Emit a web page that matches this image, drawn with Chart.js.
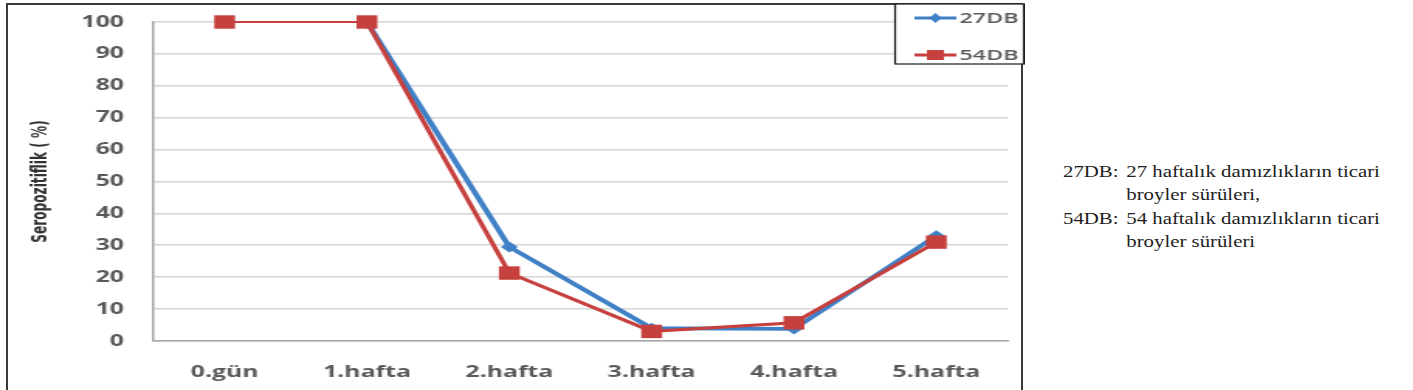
<!DOCTYPE html>
<html>
<head>
<meta charset="utf-8">
<script src="https://cdn.jsdelivr.net/npm/chart.js@4"></script>
<style>
  html, body { margin:0; padding:0; width:1413px; height:390px; overflow:hidden; background:#fff; }
  #frame { position:absolute; left:6px; top:3px; width:1017px; height:420px; border:2px solid #3a3a3a; box-sizing:border-box; }
  #wrap { position:absolute; left:0; top:0; width:661px; height:390px; transform:scaleX(1.55); transform-origin:0 0; }
  #note { position:absolute; left:1063px; top:160px; font-family:"Liberation Serif","Times New Roman",serif; font-size:16.8px; line-height:23.3px; color:#1e1e1e; white-space:nowrap; transform:scaleX(1.24); transform-origin:0 0; }
  #note .row { display:flex; }
  #note .lab { width:51px; }
</style>
</head>
<body>
<div id="frame"></div>
<div id="wrap"><canvas id="c" width="661" height="390"></canvas></div>
<div id="note">
  <div class="row"><span class="lab">27DB:</span><span>27 haftalık damızlıkların ticari</span></div>
  <div class="row"><span class="lab"></span><span>broyler sürüleri,</span></div>
  <div class="row"><span class="lab">54DB:</span><span>54 haftalık damızlıkların ticari</span></div>
  <div class="row"><span class="lab"></span><span>broyler sürüleri</span></div>
</div>
<script>
const categories = ['0.gün', '1.hafta', '2.hafta', '3.hafta', '4.hafta', '5.hafta'];
const series27DB = [100, 100, 29.5, 4, 3.8, 33];
const series54DB = [100, 100, 21.3, 3, 5.7, 31];
const seriesNames = ['27DB', '54DB'];
const yMin = 0, yMax = 100, yStep = 10;

const BLUE = '#3f80c6';
const RED = '#c6403e';

const legendBox = {
  id: 'legendBox',
  afterDraw(chart) {
    const ctx = chart.ctx;
    ctx.save();
    ctx.fillStyle = '#fff';
    ctx.fillRect(577.5, 4, 83, 60);
    ctx.strokeStyle = '#1a1a1a';
    ctx.lineWidth = 1.2;
    ctx.strokeRect(577.5, 4, 83, 60);
    chart.data.datasets.forEach((ds, i) => {
      const y = 18 + i * 37;
      ctx.strokeStyle = ds.borderColor;
      ctx.lineWidth = 3;
      ctx.beginPath(); ctx.moveTo(590, y); ctx.lineTo(617, y); ctx.stroke();
      ctx.fillStyle = ds.borderColor;
      const cx = 603.5;
      if (ds.pointStyle === 'rect') {
        ctx.fillRect(cx - 5.5, y - 5, 11, 10);
      } else {
        ctx.beginPath();
        ctx.moveTo(cx, y - 5); ctx.lineTo(cx + 4, y); ctx.lineTo(cx, y + 5); ctx.lineTo(cx - 4, y);
        ctx.closePath(); ctx.fill();
      }
      ctx.fillStyle = '#595959';
      ctx.font = '600 15px "Open Sans", sans-serif';
      ctx.textBaseline = 'middle';
      ctx.textAlign = 'left';
      ctx.fillText(ds.label, 619, y + 1);
    });
    ctx.restore();
  }
};

const flatTopWidth = (w) => (c) =>
  (c.p0.parsed.y === yMax && c.p1.parsed.y === yMax) ? 1.8 : w;

new Chart(document.getElementById('c'), {
  type: 'line',
  data: {
    labels: categories,
    datasets: [
      { label: seriesNames[0], data: series27DB, borderColor: BLUE, backgroundColor: BLUE,
        borderWidth: 3.8, pointStyle: 'rectRot', pointRadius: 5.5, pointBorderWidth: 0,
        tension: 0, order: 1, clip: { left: 12, right: 12, top: 12, bottom: 12 },
        segment: { borderWidth: flatTopWidth(3.8) } },
      { label: seriesNames[1], data: series54DB, borderColor: RED, backgroundColor: RED,
        borderWidth: 3.2, pointStyle: 'rect', pointRadius: 9.5, pointBorderWidth: 0,
        tension: 0, order: 0, clip: { left: 12, right: 12, top: 12, bottom: 12 },
        segment: { borderWidth: flatTopWidth(3.2) } }
    ]
  },
  options: {
    responsive: false,
    animation: false,
    layout: { padding: { top: 22, right: 11, left: 0, bottom: 0 } },
    plugins: { legend: { display: false }, tooltip: { enabled: false } },
    scales: {
      x: {
        offset: true,
        grid: { display: false, drawTicks: false },
        border: { display: true, color: '#a6a6a6', width: 1.5 },
        ticks: { color: '#595959', font: { family: 'Open Sans', size: 16, weight: 'bold' }, padding: 22, maxRotation: 0 },
        afterFit(s) { s.height = 49; s.paddingLeft = 0; s.paddingRight = 0; }
      },
      y: {
        min: yMin, max: yMax,
        ticks: { stepSize: yStep, color: '#595959', font: { family: 'Open Sans', size: 16, weight: 'bold' }, padding: 19 },
        grid: { color: '#d6d6d6', lineWidth: 1.6, drawTicks: false },
        border: { display: true, color: '#a6a6a6', width: 1.5 },
        title: { display: true, text: 'Seropozitiflik ( %)', color: '#333333',
                 font: { family: '"DejaVu Sans Condensed", "Liberation Sans", sans-serif', size: 13.5, weight: 'bold' }, padding: { top: 18, bottom: 0 } },
        afterFit(s) { s.width = 99; s.paddingTop = 0; s.paddingBottom = 0; }
      }
    }
  },
  plugins: [legendBox]
});
</script>
</body>
</html>
